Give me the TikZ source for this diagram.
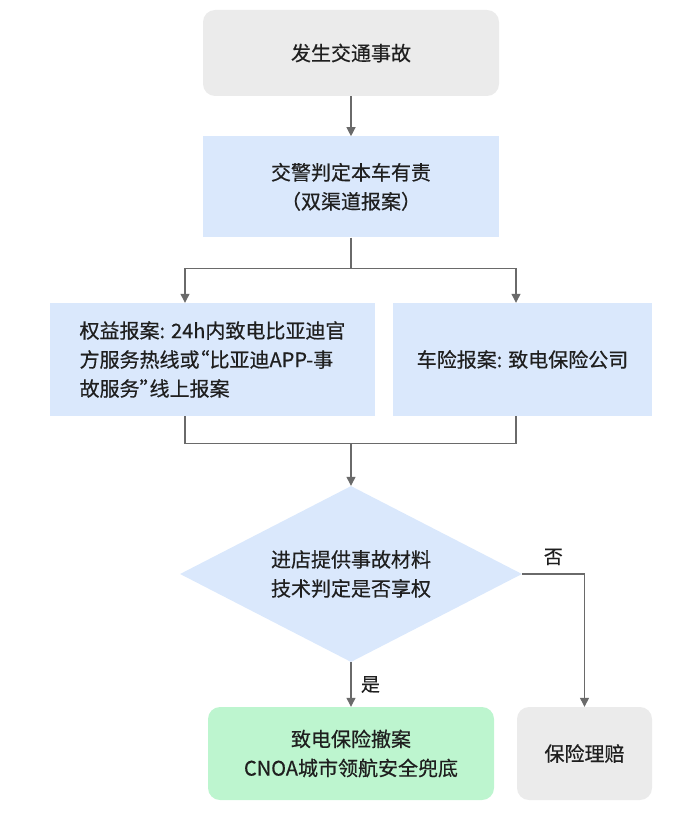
\documentclass[tikz,border=0pt]{standalone}
\usepackage{fontspec}
\newfontfamily\cjk[FakeBold=0.5]{Noto Sans CJK SC}
\usepackage{xcolor}
\usetikzlibrary{shapes.geometric,arrows.meta,positioning,calc}

\definecolor{boxgray}{HTML}{EBEBEB}
\definecolor{boxblue}{HTML}{DAE8FC}
\definecolor{boxgreen}{HTML}{BDF5CF}
\definecolor{linegray}{HTML}{6A6A6A}
\definecolor{textdark}{HTML}{1F1F1F}

% half-width curly quotes
\newcommand{\qopen}{\makebox[0.5em][r]{“}}
\newcommand{\qclose}{\makebox[0.5em][l]{”}}

\begin{document}
\begin{tikzpicture}[
  x=1pt, y=1pt,
  every node/.style={font=\cjk\fontsize{20pt}{29pt}\selectfont, text=textdark},
  box/.style={minimum height=86pt, align=center, inner sep=0pt},
  startbox/.style={box, fill=boxgray, rounded corners=12pt},
  stepbox/.style={box, fill=boxblue},
  okbox/.style={box, fill=boxgreen, rounded corners=12pt},
  decide/.style={diamond, fill=boxblue, aspect=1.94, minimum width=342pt, minimum height=176pt, inner sep=0pt, align=center},
  line/.style={draw=linegray, line width=1.2pt},
  arr/.style={line, -{Triangle[length=9pt, width=9pt]}},
  lbl/.style={font=\cjk\fontsize{19pt}{22pt}\selectfont}
]
\useasboundingbox (0,0) rectangle (700,-834);

\node[startbox, minimum width=296pt] (accident) at (351,-53) {发生交通事故};
\node[stepbox, minimum width=296pt, minimum height=101pt, below=40pt of accident] (police) {交警判定本车有责\\（双渠道报案）};

\node[stepbox, align=left, minimum width=325pt, minimum height=113pt] (rights) at (212.5,-359.5) {权益报案: 24h内致电比亚迪官\\方服务热线或\qopen 比亚迪APP-事\\故服务\qclose 线上报案};
\node[stepbox, minimum width=259pt, minimum height=113pt] (carins) at (522.5,-359.5) {车险报案: 致电保险公司};

\node[decide] (check) at (351,-574) {进店提供事故材料\\技术判定是否享权};

\node[okbox, minimum width=286pt, minimum height=93pt] (revoke) at (351,-753.5) {致电保险撤案\\CNOA城市领航安全兜底};
\node[startbox, minimum width=135pt, minimum height=93pt] (claim) at (584.5,-753.5) {保险理赔};

\draw[arr] (accident) -- (police);
\draw[line] (police.south) -- ++(0,-31) coordinate (split);
\draw[arr] (split) -| ([xshift=-27.5pt]rights.north);
\draw[arr] (split) -| ([xshift=-6.5pt]carins.north);

\draw[line] ([xshift=-27.5pt]rights.south) -- ++(0,-27) -| ([xshift=-6.5pt]carins.south);
\draw[arr] (check.north |- 0,-443) -- (check.north);

\draw[arr] (check.south) -- node[lbl, right=6pt] {是} (revoke.north);
\draw[arr] (check.east) -| node[lbl, above=5pt, pos=0.25] {否} (claim.north);
\end{tikzpicture}
\end{document}
